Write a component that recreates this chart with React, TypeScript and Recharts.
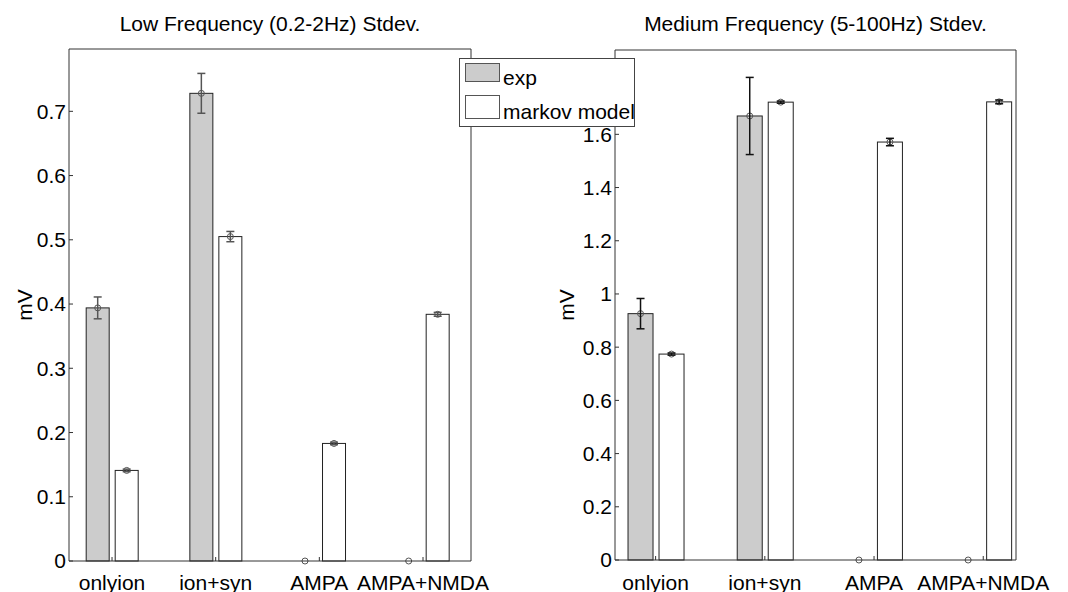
import React from 'react';
import { BarChart, Bar, XAxis, YAxis, ErrorBar, Legend } from 'recharts';

const FONT = '"Liberation Sans", Arial, Helvetica, sans-serif';

// groups along the x axis
const categories = ['onlyion', 'ion+syn', 'AMPA', 'AMPA+NMDA'];
const positions = [1, 2, 3, 4];

// low frequency (0.2-2Hz) stdev, mV
const lowExp = [0.394, 0.728, 0, 0];
const lowExpErr = [0.017, 0.031, 0, 0];
const lowModel = [0.141, 0.505, 0.183, 0.384];
const lowModelErr = [0.002, 0.008, 0.002, 0.003];
const lowTicks = [0, 0.1, 0.2, 0.3, 0.4, 0.5, 0.6, 0.7];

// medium frequency (5-100Hz) stdev, mV
const midExp = [0.926, 1.669, 0, 0];
const midExpErr = [0.057, 0.145, 0, 0];
const midModel = [0.774, 1.721, 1.571, 1.722];
const midModelErr = [0.004, 0.004, 0.014, 0.007];
const midTicks = [0, 0.2, 0.4, 0.6, 0.8, 1, 1.2, 1.4, 1.6];

const buildRows = (exp: number[], expErr: number[], model: number[], modelErr: number[]) =>
  categories.map((name, i) => ({
    name,
    pos: positions[i],
    exp: exp[i],
    expErr: expErr[i],
    model: model[i],
    modelErr: modelErr[i],
  }));

const lowRows = buildRows(lowExp, lowExpErr, lowModel, lowModelErr);
const midRows = buildRows(midExp, midExpErr, midModel, midModelErr);

const tickFont = { fill: '#000', fontSize: 21, fontFamily: FONT };
const axisColor = '#333';

// bar outline plus a small open circle at the mean (drawn even for zero bars)
const barWithDot = (dotColor: string) => (p: any) => {
  if (p == null || p.x == null) return <g />;
  const h = Math.max(0, p.height || 0);
  return (
    <g>
      {h > 0 && (
        <rect x={p.x} y={p.y} width={p.width} height={h} fill={p.fill} stroke={p.stroke} strokeWidth={1} />
      )}
      <circle cx={p.x + p.width / 2} cy={p.y} r={3} fill="none" stroke={dotColor} strokeWidth={1} />
    </g>
  );
};

const LegendBox = ({ payload }: any) => {
  const rows = payload || [];
  const patchY = [5, 37];
  const patchH = [18, 23];
  const textY = [27, 61];
  return (
    <svg width={176} height={69} style={{ display: 'block' }}>
      <rect x={0.5} y={0.5} width={175} height={68} fill="#fff" stroke="#444" />
      {rows.map((entry: any, i: number) => (
        <g key={entry.value}>
          <rect x={6.5} y={patchY[i] + 0.5} width={34} height={patchH[i]} fill={entry.color} stroke="#555" />
          <text x={44} y={textY[i]} fontSize={21} fontFamily={FONT} fill="#000">
            {entry.value}
          </text>
        </g>
      ))}
    </svg>
  );
};

interface PanelProps {
  rows: any[];
  title: string;
  yMax: number;
  yTicks: number[];
  xDomain: [number, number];
  margin: { top: number; right: number; bottom: number; left: number };
  xAxisHeight: number;
  barSize: number;
  titleOffset: number;
  unitOffset: number;
  xTickMargin: number;
  errColor: string;
  withLegend?: boolean;
}

function Panel(props: PanelProps) {
  const {
    rows, title, yMax, yTicks, xDomain, margin, xAxisHeight, barSize,
    titleOffset, unitOffset, xTickMargin, errColor, withLegend,
  } = props;

  return (
    <BarChart width={534} height={592} data={rows} margin={margin} barGap={6}>
      <XAxis
        dataKey="pos"
        type="number"
        domain={xDomain}
        ticks={positions}
        interval={0}
        height={xAxisHeight}
        tickFormatter={(v: number) => categories[positions.indexOf(v)] ?? ''}
        tick={tickFont}
        tickSize={-4}
        tickMargin={xTickMargin}
        stroke={axisColor}
      />
      {/* box top edge with inward ticks, carries the title */}
      <XAxis
        xAxisId="top"
        orientation="top"
        dataKey="pos"
        type="number"
        domain={xDomain}
        ticks={positions}
        height={1}
        tick={false}
        tickSize={-4}
        stroke={axisColor}
        label={{ value: title, position: 'top', offset: titleOffset, fill: '#000', fontSize: 21, fontFamily: FONT }}
      />
      <YAxis
        type="number"
        domain={[0, yMax]}
        ticks={yTicks}
        interval={0}
        width={50}
        tick={tickFont}
        tickSize={-4}
        tickMargin={7}
        stroke={axisColor}
        tickFormatter={(v: number) => String(Math.round(v * 10) / 10)}
        label={{
          value: 'mV',
          angle: -90,
          position: 'insideLeft',
          offset: unitOffset,
          fill: '#000',
          fontSize: 21,
          fontFamily: FONT,
          style: { textAnchor: 'middle' },
        }}
      />
      {/* box right edge */}
      <YAxis
        yAxisId="right"
        orientation="right"
        type="number"
        domain={[0, yMax]}
        ticks={yTicks}
        width={1}
        tick={false}
        tickSize={-4}
        stroke={axisColor}
      />
      <Bar
        dataKey="exp"
        name="exp"
        fill="#cccccc"
        stroke="#222"
        barSize={barSize}
        isAnimationActive={false}
        shape={barWithDot('#555')}
      >
        <ErrorBar dataKey="expErr" width={4} stroke={errColor} strokeWidth={1.5} direction="y" />
      </Bar>
      <Bar
        dataKey="model"
        name="markov model"
        fill="#ffffff"
        stroke="#222"
        barSize={barSize}
        isAnimationActive={false}
        shape={barWithDot('#555')}
      >
        <ErrorBar dataKey="modelErr" width={4} stroke={errColor} strokeWidth={1.5} direction="y" />
      </Bar>
      {withLegend && (
        <Legend
          layout="vertical"
          align="center"
          verticalAlign="middle"
          content={<LegendBox />}
          wrapperStyle={{ left: -75, top: 58, width: 176, height: 69 }}
        />
      )}
    </BarChart>
  );
}

export default function App() {
  return (
    <div
      style={{
        position: 'absolute',
        left: 0,
        top: 0,
        width: 1068,
        height: 592,
        background: '#fff',
        overflow: 'hidden',
        fontFamily: FONT,
      }}
    >
      <div style={{ position: 'absolute', left: 0, top: 0 }}>
        <Panel
          rows={lowRows}
          title="Low Frequency (0.2-2Hz) Stdev."
          yMax={0.797}
          yTicks={lowTicks}
          xDomain={[0.585, 4.463]}
          margin={{ top: 48, right: 62, bottom: 0, left: 19 }}
          xAxisHeight={31}
          barSize={23}
          titleOffset={17}
          unitOffset={6}
          xTickMargin={18}
          errColor="#555"
        />
      </div>
      <div style={{ position: 'absolute', left: 534, top: 0 }}>
        <Panel
          rows={midRows}
          title="Medium Frequency (5-100Hz) Stdev."
          yMax={1.917}
          yTicks={midTicks}
          xDomain={[0.628, 4.3]}
          margin={{ top: 49, right: 51, bottom: 0, left: 31 }}
          xAxisHeight={32}
          barSize={25}
          titleOffset={18}
          unitOffset={2}
          xTickMargin={19}
          errColor="#111"
          withLegend
        />
      </div>
    </div>
  );
}
